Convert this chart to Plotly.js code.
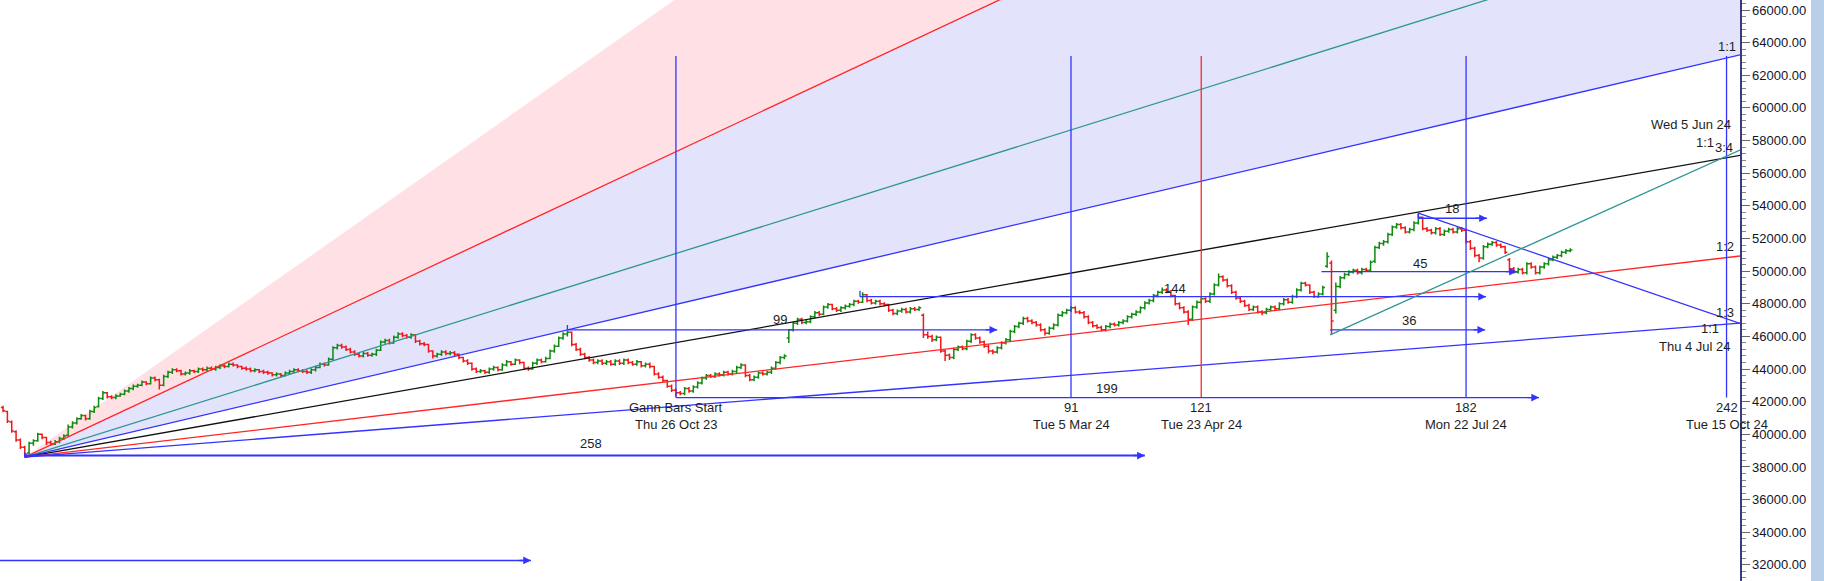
<!DOCTYPE html>
<html><head><meta charset="utf-8">
<script src="https://cdn.plot.ly/plotly-3.0.1.min.js"></script>
<style>html,body{margin:0;padding:0;background:#fff;overflow:hidden}#chart{width:1824px;height:581px}</style>
</head><body><div id="chart"></div>
<script>
// ---------- price data (daily bars, index 0 = Thu 26 Oct 23) ----------
const firstBar = -155;
const open = [
41650,41400,40750,40150,39650,39200,38850,39450,39600,40000,
39800,39500,39400,39550,39750,39950,40450,40700,40950,41150,
40950,41400,41700,42200,42550,42300,42250,42350,42450,42650,
42800,42950,43000,43200,43100,43450,43350,43000,43550,43800,
43950,43900,43700,43750,43900,43850,44000,43950,44050,43980,
44100,44200,44150,44300,44250,44150,44050,44000,43900,43950,
43850,43800,43750,43650,43700,43600,43750,43850,43950,43900,
43850,43800,43950,44100,44300,44250,44600,45300,45450,45350,
45200,45050,44900,44800,44950,44850,44900,45150,45650,45750,
45600,45950,46150,46050,45950,46100,45700,45550,45500,45100,
44800,44900,45050,44950,45000,44900,44700,44500,44350,44000,
43850,43900,43800,44000,44100,43950,44250,44450,44300,44550,
44400,44050,44000,44350,44550,44450,44650,45100,45400,45900,
46150,46250,45500,45200,44900,44700,44550,44400,44500,44350,
44450,44300,44500,44350,44550,44400,44300,44450,44200,44300,
44150,43700,43500,43300,42950,42700,42550,42500,42800,42650,
42900,43150,43450,43600,43550,43700,43650,43800,43700,43850,
44100,44250,43600,43350,43500,43750,43700,43800,44050,44400,
44700,45900,46400,46800,47050,46850,46900,47200,47450,47350,
47800,47950,47700,47600,47750,47850,47950,48150,48100,48550,
48200,48050,48150,48000,47950,47600,47400,47550,47650,47500,
47700,47650,47300,46100,46000,45800,45950,45100,44850,44700,
45200,45350,45250,45700,46100,45900,45650,45400,45100,45050,
45300,45600,45800,46300,46600,46800,47100,46950,46850,46700,
46400,46200,46500,46700,47300,47450,47600,47750,47500,47450,
47200,46850,46650,46550,46400,46600,46750,46700,46850,46950,
47200,47350,47500,47750,48050,48200,48500,48700,48850,48750,
48500,48000,47750,47500,47050,47800,48100,48300,48150,48600,
49150,49650,49450,49100,48700,48350,48150,47900,47650,47800,
47500,47450,47650,47800,47700,48000,48250,48100,48450,48850,
49250,49150,48700,48450,48600,50300,50500,47600,49050,49600,
49800,49950,50050,49900,50100,50050,50600,51450,51700,51800,
52250,52700,52850,52650,52400,52550,52950,53300,52600,52500,
52350,52600,52250,52450,52550,52400,52600,52500,51800,51400,
50950,50800,51500,51650,51750,51600,51500,50700,50150,49950,
50100,49900,50450,50250,49900,50250,50450,50700,50850,50950,
51150,51250];
const high = [
41750,41450,40850,40250,39750,39300,39550,39700,40100,40050,
39850,39600,39650,39850,40000,40600,40800,41050,41250,41200,
41500,41750,42300,42650,42600,42400,42450,42550,42750,42900,
43050,43100,43300,43250,43550,43550,43400,43650,43900,44050,
44050,43950,43850,44000,43950,44100,44100,44150,44150,44200,
44300,44300,44400,44400,44300,44200,44150,44100,44050,44000,
43950,43900,43800,43800,43750,43850,43950,44050,44050,44000,
43950,44050,44200,44400,44400,44700,45400,45550,45550,45450,
45300,45150,45000,45050,45050,45000,45250,45750,45850,45850,
46050,46250,46250,46150,46200,46150,45800,45650,45550,45150,
45000,45150,45150,45100,45100,44950,44750,44600,44400,44100,
44000,43950,44100,44200,44150,44350,44550,44500,44650,44600,
44450,44150,44450,44650,44650,44750,45200,45500,46000,46250,
46350,46300,45600,45300,45000,44800,44650,44600,44600,44550,
44550,44600,44600,44650,44650,44500,44550,44500,44400,44400,
44200,43800,43600,43350,43050,42800,42650,42900,42900,43000,
43250,43550,43700,43700,43800,43800,43900,43900,43950,44200,
44350,44300,43700,43600,43850,43850,43900,44150,44500,44800,
44900,46450,46900,47150,47150,47000,47300,47550,47550,47900,
48050,48000,47800,47850,47950,48050,48250,48250,48700,48600,
48300,48250,48250,48100,48000,47700,47650,47750,47750,47800,
47800,47850,47400,46300,46100,46050,46000,45200,44950,45300,
45450,45450,45800,46200,46200,46000,45750,45500,45200,45400,
45700,45900,46400,46700,46900,47200,47200,47050,46950,46800,
46500,46600,46800,47400,47550,47700,47850,47850,47600,47550,
47300,46950,46750,46650,46700,46850,46850,46950,47050,47300,
47450,47600,47850,48150,48300,48600,48800,49000,48950,48850,
48550,48100,47850,47600,47900,48200,48400,48400,48700,49250,
49850,49750,49550,49200,48800,48450,48250,48000,47900,47900,
47600,47750,47900,47900,48100,48350,48350,48550,48950,49350,
49350,49200,48800,48700,49100,51150,50650,49300,49700,49900,
50050,50150,50150,50200,50200,50650,51550,51800,51900,52350,
52800,52950,52950,52750,52650,53050,53550,53350,52700,52600,
52700,52700,52550,52650,52650,52700,52700,52600,51900,51500,
51050,51600,51750,51850,51850,51700,51550,50800,50250,50200,
50200,50550,50550,50350,50350,50550,50800,50950,51050,51250,
51350,51400];
const low = [
41350,40700,40100,39550,39100,38600,38800,39300,39550,39700,
39350,39300,39350,39450,39650,39900,40350,40600,40900,40850,
40900,41300,41650,42100,42200,42150,42150,42300,42400,42550,
42700,42850,42950,43000,43050,43250,42750,42950,43450,43700,
43800,43600,43600,43650,43750,43750,43850,43850,43900,43900,
44000,44050,44100,44150,44050,43950,43900,43800,43800,43750,
43700,43650,43550,43550,43500,43550,43650,43750,43800,43750,
43700,43700,43850,44050,44150,44200,44550,45200,45250,45100,
44950,44800,44700,44700,44750,44750,44800,45100,45550,45500,
45550,45850,45950,45850,45850,45600,45450,45400,45000,44650,
44700,44800,44850,44850,44800,44600,44400,44250,43900,43750,
43750,43700,43700,43900,43850,43900,44150,44200,44250,44300,
43950,43900,43950,44250,44350,44400,44600,45000,45350,45800,
46000,45400,45100,44800,44600,44450,44300,44300,44250,44250,
44200,44200,44250,44250,44300,44200,44200,44100,44100,44050,
43600,43400,43200,42850,42600,42300,42400,42400,42550,42550,
42800,43050,43350,43450,43450,43550,43550,43600,43600,43750,
44000,43500,43250,43250,43400,43600,43600,43700,43950,44300,
44600,45600,46300,46700,46750,46750,46800,47100,47250,47300,
47700,47600,47500,47500,47650,47750,47850,48000,48050,48100,
47950,47950,47900,47850,47500,47300,47300,47450,47400,47400,
47550,47550,45900,45850,45650,45700,45000,44500,44550,44600,
45100,45150,45150,45600,45800,45550,45300,44950,44900,44950,
45200,45500,45700,46200,46500,46700,46850,46750,46600,46300,
46050,46100,46400,46600,47200,47350,47500,47400,47350,47100,
46750,46550,46450,46300,46300,46500,46600,46600,46750,46850,
47100,47250,47400,47650,47950,48100,48400,48600,48650,48400,
47900,47650,47400,46700,46950,47700,48000,48050,48050,48500,
49050,49350,49000,48600,48250,48050,47800,47550,47550,47400,
47300,47350,47550,47600,47600,47900,48000,48000,48350,48750,
49050,48600,48350,48350,48500,50200,46100,47400,48950,49500,
49700,49850,49800,49800,49950,49950,50500,51350,51550,51700,
52150,52600,52550,52300,52300,52450,52850,52500,52400,52250,
52250,52150,52150,52350,52300,52300,52400,51700,51300,50850,
50550,50700,51400,51550,51500,51400,51050,49900,49850,49850,
49800,49800,50150,49800,49800,50150,50350,50600,50750,50850,
51050,51150];
const close = [
41450,40800,40200,39650,39200,38800,39450,39600,40000,39800,
39500,39400,39550,39750,39900,40450,40700,40950,41150,40950,
41400,41650,42200,42550,42300,42250,42350,42450,42650,42800,
42950,43000,43200,43100,43450,43350,43000,43550,43800,43950,
43900,43700,43750,43900,43850,44000,43950,44050,43980,44100,
44200,44150,44300,44250,44150,44050,44000,43900,43950,43850,
43800,43750,43650,43700,43600,43750,43850,43950,43900,43850,
43800,43950,44100,44300,44250,44600,45300,45450,45350,45200,
45050,44900,44800,44950,44850,44900,45150,45650,45750,45600,
45950,46150,46050,45950,46100,45700,45550,45500,45100,44800,
44900,45050,44950,45000,44900,44700,44500,44350,44000,43850,
43900,43800,44000,44100,43950,44250,44450,44300,44550,44400,
44050,44000,44350,44550,44450,44650,45100,45400,45900,46150,
46250,45500,45200,44900,44700,44550,44400,44500,44350,44450,
44300,44500,44350,44550,44400,44300,44450,44200,44300,44150,
43700,43500,43300,42950,42700,42550,42500,42800,42650,42900,
43150,43450,43600,43550,43700,43650,43800,43700,43850,44100,
44250,43600,43350,43500,43750,43700,43800,44050,44400,44700,
44800,46400,46800,47050,46850,46900,47200,47450,47350,47800,
47950,47700,47600,47750,47850,47950,48150,48100,48550,48200,
48050,48150,48000,47950,47600,47400,47550,47650,47500,47700,
47650,47750,46100,46000,45800,45950,45100,44850,44700,45200,
45350,45250,45700,46100,45900,45650,45400,45100,45050,45300,
45600,45800,46300,46600,46800,47100,46950,46850,46700,46400,
46200,46500,46700,47300,47450,47600,47750,47500,47450,47200,
46850,46650,46550,46400,46600,46750,46700,46850,46950,47200,
47350,47500,47750,48050,48200,48500,48700,48850,48750,48500,
48000,47750,47500,47050,47800,48100,48300,48150,48600,49150,
49650,49450,49100,48700,48350,48150,47900,47650,47800,47500,
47450,47650,47800,47700,48000,48250,48100,48450,48850,49250,
49150,48700,48450,48600,49000,50900,46950,49050,49600,49800,
49950,50050,49900,50100,50050,50550,51450,51700,51800,52250,
52700,52850,52650,52400,52550,52950,53300,52600,52500,52350,
52600,52250,52450,52550,52400,52600,52500,51800,51400,50950,
50800,51500,51650,51750,51600,51500,51150,50150,49950,50100,
49900,50450,50250,49900,50250,50450,50700,50850,50950,51150,
51250,51300];

// ---------- Gann fan ----------
const fanOriginBar = -150;
const fanOriginPrice = 38600;
const fanOneByOne = 62.4;            // points per bar on the 1x1
const fanEndBar = 252;
const fanRatios = [2, 4/3, 1, 3/4, 1/2, 1/3];
const fanColors = ['#ff2626', '#2f9696', '#3333ff', '#111111', '#ff2626', '#3333ff'];
const fillRatiosPink = [3, 2];
const fillRatiosLavender = [2, 1];

// ---------- vertical Gann bar markers ----------
const vlBar = [0, 91, 121, 182, 242];
const vlColor = ['#3333ff', '#3333ff', '#ff2626', '#3333ff', '#3333ff'];
const vlTop = 63180, vlBottom = 42250;
const vlNumber = ['Gann Bars Start', '91', '121', '182', '242'];
const vlDate = ['Thu 26 Oct 23', 'Tue 5 Mar 24', 'Tue 23 Apr 24', 'Mon 22 Jul 24', 'Tue 15 Oct 24'];
const vlNumberPrice = 41614, vlDatePrice = 40573;

// ---------- horizontal bar-count arrows ----------
const hlStart = [-150, 0, -25, 42.4, 148.7, 150.7, 171, -175];
const hlEnd = [108, 198.8, 74, 186.6, 193.7, 186.4, 186.8, -33.4];
const hlPrice = [38700, 42250, 46400, 48435, 49970, 46400, 53240, 32270];
const hlText = ['258', '199', '99', '144', '45', '36', '18', ''];
const hlTextBar = [-19.6, 99.2, 23.9, 115, 171.4, 168.9, 178.8, null];
const hlTextPrice = [39409, 42821, 47006, 48949, 50480, 46945, 53807, null];

// ---------- other trend lines ----------
const downBars = [171, 245.1], downPrices = [53550, 46790];
const tealBars = [150.7, 245.1], tealPrices = [46090, 57420];
const tickBar = [-150, -25, 42.4, 171];
const tickLow = [38600, 46400, 48435, 53240];
const tickHigh = [38880, 46700, 48800, 53550];

// ---------- right-hand labels ----------
const rlText = ['1:1', 'Wed 5 Jun 24', '1:1', '3:4', '1:2', '1:3', '1:1', 'Thu 4 Jul 24'];
const rlBar = [242, 243.5, 237, 241.3, 241.6, 241.6, 238.1, 243.5];
const rlPrice = [63764, 59015, 57912, 57545, 51479, 47435, 46455, 45352];
const rlAnchor = ['center', 'right', 'center', 'center', 'center', 'center', 'center', 'right'];

// ================= build =================
const FONT = 'Liberation Sans, Arial, sans-serif';
const TXT = '#1e1e1e';
const barX = open.map((_, i) => firstBar + i);
const fanPrice = (ratio, bar) => fanOriginPrice + ratio * fanOneByOne * (bar - fanOriginBar);

const traces = [];
const shapes = [];
const annotations = [];

function fillPath(r1, r2) {
  return `M ${fanOriginBar},${fanOriginPrice} L ${fanEndBar},${fanPrice(r1, fanEndBar)} L ${fanEndBar},${fanPrice(r2, fanEndBar)} Z`;
}
shapes.push({type: 'path', xref: 'x', yref: 'y', path: fillPath(fillRatiosPink[0], fillRatiosPink[1]),
  fillcolor: '#ffe1e5', line: {width: 0}, layer: 'below'});
shapes.push({type: 'path', xref: 'x', yref: 'y', path: fillPath(fillRatiosLavender[0], fillRatiosLavender[1]),
  fillcolor: '#e3e3fc', line: {width: 0}, layer: 'below'});
// light-blue strip at the far right of the picture
shapes.push({type: 'rect', xref: 'paper', yref: 'paper', x0: 1811 / 1740, x1: 1830 / 1740, y0: 0, y1: 1,
  fillcolor: '#b7cfe9', line: {width: 0}});

// price bars
traces.push({type: 'ohlc', x: barX, open, high, low, close, tickwidth: 0.5,
  increasing: {line: {color: '#0f8a0f', width: 1.5}},
  decreasing: {line: {color: '#f01818', width: 1.5}}, hoverinfo: 'skip'});

// fan lines
fanRatios.forEach((r, i) => {
  traces.push({type: 'scatter', mode: 'lines', x: [fanOriginBar, fanEndBar],
    y: [fanOriginPrice, fanPrice(r, fanEndBar)], line: {color: fanColors[i], width: 1.3}, hoverinfo: 'skip'});
});

// vertical markers
vlBar.forEach((b, i) => {
  traces.push({type: 'scatter', mode: 'lines', x: [b, b], y: [vlBottom, vlTop],
    line: {color: vlColor[i], width: 1.3}, hoverinfo: 'skip'});
  annotations.push({x: b, y: vlNumberPrice, xref: 'x', yref: 'y', text: vlNumber[i], showarrow: false,
    font: {family: FONT, size: 13, color: TXT}, xanchor: 'center', yanchor: 'middle'});
  annotations.push({x: b, y: vlDatePrice, xref: 'x', yref: 'y', text: vlDate[i], showarrow: false,
    font: {family: FONT, size: 13, color: TXT}, xanchor: 'center', yanchor: 'middle'});
});

// horizontal arrows
hlStart.forEach((s, i) => {
  traces.push({type: 'scatter', mode: 'lines', x: [s, hlEnd[i]], y: [hlPrice[i], hlPrice[i]],
    line: {color: '#3333ff', width: i === 0 ? 2 : 1.4}, hoverinfo: 'skip'});
  annotations.push({x: hlEnd[i], y: hlPrice[i], ax: hlEnd[i] - 3, ay: hlPrice[i], xref: 'x', yref: 'y',
    axref: 'x', ayref: 'y', text: '', showarrow: true, arrowhead: 2, arrowsize: 1.1, arrowwidth: 1.4,
    arrowcolor: '#3333ff', standoff: 0});
  if (hlText[i]) {
    annotations.push({x: hlTextBar[i], y: hlTextPrice[i], xref: 'x', yref: 'y', text: hlText[i], showarrow: false,
      font: {family: FONT, size: 13, color: TXT}, xanchor: 'center', yanchor: 'middle'});
  }
});

// down line & teal line
traces.push({type: 'scatter', mode: 'lines', x: downBars, y: downPrices, line: {color: '#3333ff', width: 1.3}, hoverinfo: 'skip'});
traces.push({type: 'scatter', mode: 'lines', x: tealBars, y: tealPrices, line: {color: '#2f9696', width: 1.3}, hoverinfo: 'skip'});
tickBar.forEach((b, i) => {
  traces.push({type: 'scatter', mode: 'lines', x: [b, b], y: [tickLow[i], tickHigh[i]], line: {color: '#3333ff', width: 1.3}, hoverinfo: 'skip'});
});

rlText.forEach((t, i) => {
  annotations.push({x: rlBar[i], y: rlPrice[i], xref: 'x', yref: 'y', text: t, showarrow: false,
    font: {family: FONT, size: 13, color: TXT}, xanchor: rlAnchor[i], yanchor: 'middle'});
});

const layout = {
  width: 1824, height: 581,
  margin: {l: 0, r: 84, t: 0, b: 0, pad: 0},
  paper_bgcolor: '#ffffff', plot_bgcolor: '#ffffff',
  showlegend: false, hovermode: false,
  xaxis: {range: [-155.7, 245.1], visible: false, rangeslider: {visible: false}, fixedrange: true},
  yaxis: {range: [31012, 66613], side: 'right', showgrid: false, zeroline: false,
    showline: true, linecolor: '#3a3a7e', linewidth: 1.5,
    ticks: 'outside', ticklen: 8, tickwidth: 1, tickcolor: '#666666',
    tick0: 0, dtick: 2000, tickformat: '.2f',
    tickfont: {family: FONT, size: 13, color: '#141428'},
    minor: {dtick: 400, ticks: 'outside', ticklen: 4, tickcolor: '#888888', showgrid: false},
    fixedrange: true},
  shapes, annotations
};

Plotly.newPlot('chart', traces, layout, {staticPlot: true, displayModeBar: false});
</script>
</body></html>
